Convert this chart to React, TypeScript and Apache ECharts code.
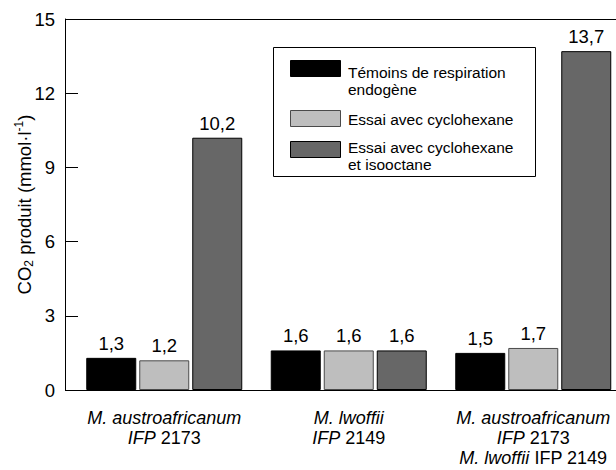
import React, { useEffect, useRef } from "react";
import * as echarts from "echarts";

const FONT = "'Liberation Sans', Arial, Helvetica, sans-serif";

const categories = [
  "M. austroafricanum IFP 2173",
  "M. lwoffii IFP 2149",
  "M. austroafricanum IFP 2173 + M. lwoffii IFP 2149",
];
const categoryLabels = [
  "{i|M. austroafricanum}\n{i|IFP}{n| 2173}",
  "{i|M. lwoffii}\n{i|IFP}{n| 2149}",
  "{i|M. austroafricanum}\n{i|IFP}{n| 2173}\n{i|M. lwoffii}{n| IFP 2149}",
];
const seriesNames = [
  "Témoins de respiration endogène",
  "Essai avec cyclohexane",
  "Essai avec cyclohexane et isooctane",
];
const legendLines = [
  ["Témoins de respiration", "endogène"],
  ["Essai avec cyclohexane"],
  ["Essai avec cyclohexane", "et isooctane"],
];
const temoins = [1.3, 1.6, 1.5];
const cyclohexane = [1.2, 1.6, 1.7];
const cycloIsooctane = [10.2, 1.6, 13.7];
const yMin = 0;
const yMax = 15;
const yStep = 3;

const fills = ["#000000", "#bebebe", "#676767"];
const borders = ["#000000", "#4a4a4a", "#000000"];

export default function App() {
  const ref = useRef<HTMLDivElement>(null);
  useEffect(() => {
    if (!ref.current) return;
    const chart = echarts.init(ref.current, null, { renderer: "svg" });
    const seriesData = [temoins, cyclohexane, cycloIsooctane];
    const fmt = (v: number) => v.toFixed(1).replace(".", ",");

    // custom legend (graphic)
    const legendBox = { x: 273, y: 47, w: 262, h: 129 };
    const swatchY = [60, 110, 141];
    const textCY = [81, 119, 156];
    const legendGraphics: any[] = [
      {
        type: "rect",
        shape: { x: legendBox.x + 0.5, y: legendBox.y + 0.5, width: legendBox.w, height: legendBox.h },
        style: { fill: "#fff", stroke: "#000", lineWidth: 1 },
        z: 10,
      },
    ];
    legendLines.forEach((lines, i) => {
      legendGraphics.push({
        type: "rect",
        shape: { x: 290.5, y: swatchY[i] + 0.5, width: 50, height: 16 },
        style: { fill: fills[i], stroke: borders[i], lineWidth: 1 },
        z: 11,
      });
      legendGraphics.push({
        type: "text",
        x: 348,
        y: textCY[i],
        style: {
          text: lines.join("\n"),
          fontFamily: FONT,
          fontSize: 15.5,
          lineHeight: 17.5,
          fill: "#000",
          verticalAlign: "middle",
          align: "left",
        },
        z: 11,
      });
    });

    chart.setOption({
      animation: false,
      backgroundColor: "#fff",
      textStyle: { fontFamily: FONT, color: "#000" },
      grid: {
        left: 72,
        right: -9.5,
        top: 19,
        bottom: 80,
        containLabel: false,
        outerBoundsMode: "none",
      },
      xAxis: {
        type: "category",
        data: categories,
        axisLine: { show: false },
        axisTick: { show: false },
        axisLabel: {
          interval: 0,
          margin: 18,
          color: "#000",
          fontFamily: FONT,
          fontSize: 18,
          lineHeight: 20,
          formatter: (_v: string, idx: number) => categoryLabels[idx],
          rich: {
            i: { fontStyle: "italic", fontSize: 18, lineHeight: 20, fontFamily: FONT, color: "#000" },
            n: { fontSize: 18, lineHeight: 20, fontFamily: FONT, color: "#000" },
          },
        },
      },
      yAxis: {
        type: "value",
        min: yMin,
        max: yMax,
        interval: yStep,
        offset: 7,
        axisLine: { show: true, lineStyle: { color: "#000", width: 1 } },
        axisTick: { show: true, inside: true, length: 13, lineStyle: { color: "#000", width: 1 } },
        axisLabel: { color: "#000", fontSize: 18.5, margin: 10, fontFamily: FONT },
        splitLine: { show: false },
        name: "CO{sub|2} produit (mmol·l{sup|-1})",
        nameLocation: "middle",
        nameRotate: 90,
        nameGap: 30,
        nameMoveOverlap: false,
        nameTextStyle: {
          color: "#000",
          fontSize: 18.5,
          fontFamily: FONT,
          rich: {
            sub: { fontSize: 12, padding: [9, 0, 0, 0], fontFamily: FONT, color: "#000" },
            sup: { fontSize: 12, padding: [0, 0, 10, 0], fontFamily: FONT, color: "#000" },
          },
        },
      },
      series: seriesData.map((d, i) => ({
        type: "bar",
        name: seriesNames[i],
        data: d,
        barWidth: 50,
        barGap: "6%",
        itemStyle: { color: fills[i], borderColor: borders[i], borderWidth: 1 },
        label: {
          show: true,
          position: "top",
          distance: 5,
          color: "#000",
          fontSize: 18.5,
          fontFamily: FONT,
          formatter: (p: any) => fmt(p.value),
        },
      })),
      graphic: [
        {
          type: "line",
          shape: { x1: 65, y1: 19.5, x2: 616, y2: 19.5 },
          style: { stroke: "#000", lineWidth: 1 },
          z: 5,
        },
        {
          type: "line",
          shape: { x1: 65, y1: 390.5, x2: 616, y2: 390.5 },
          style: { stroke: "#000", lineWidth: 1 },
          z: 5,
        },
        ...legendGraphics,
      ],
    });
    return () => chart.dispose();
  }, []);
  return (
    <div
      ref={ref}
      style={{ position: "fixed", left: 0, top: 0, width: 616, height: 470 }}
    />
  );
}
